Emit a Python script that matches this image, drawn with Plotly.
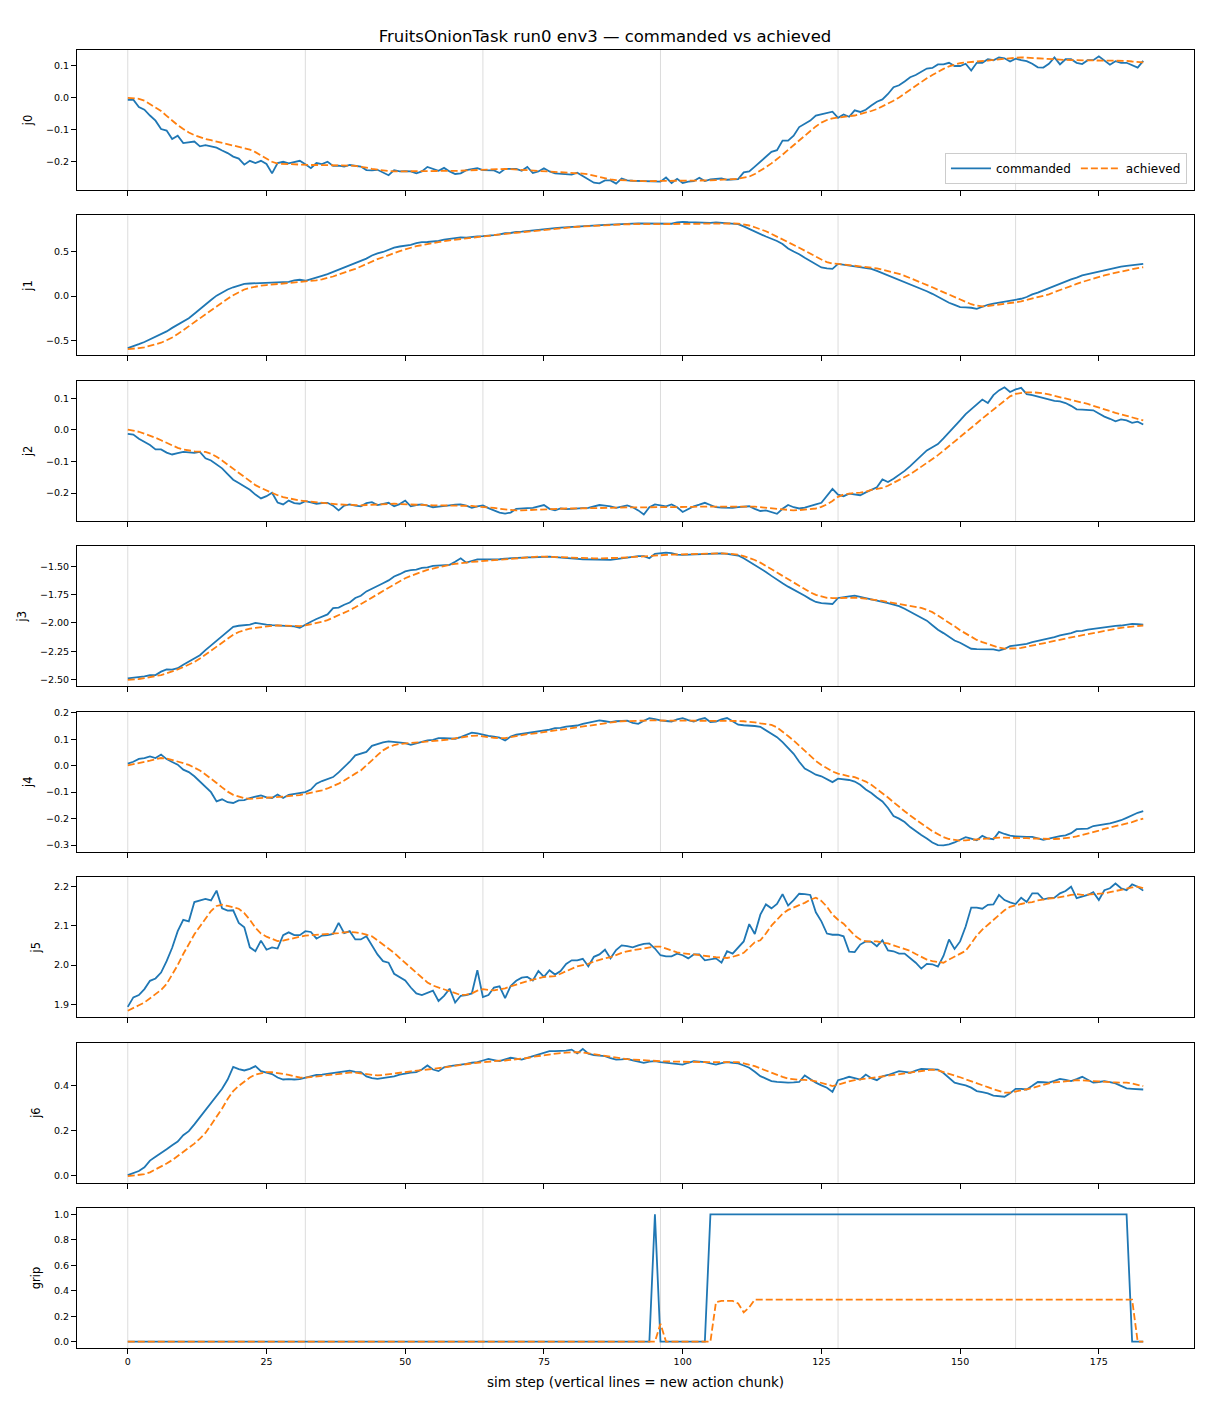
import plotly.graph_objects as go
from plotly.subplots import make_subplots

# sim steps 0..183
steps = list(range(184))
chunk_starts = [0, 32, 64, 96, 128, 160]

j0_cmd = [
    -0.007, -0.007, -0.030, -0.038, -0.056, -0.072, -0.098, -0.103, -0.129, -0.119,
    -0.142, -0.140, -0.137, -0.152, -0.148, -0.152, -0.156, -0.165, -0.173, -0.184,
    -0.190, -0.209, -0.197, -0.204, -0.197, -0.207, -0.236, -0.204, -0.200, -0.205,
    -0.201, -0.197, -0.208, -0.220, -0.204, -0.207, -0.200, -0.213, -0.212, -0.215,
    -0.210, -0.212, -0.215, -0.226, -0.227, -0.225, -0.233, -0.242, -0.226, -0.230,
    -0.229, -0.230, -0.236, -0.230, -0.216, -0.222, -0.228, -0.219, -0.230, -0.238,
    -0.236, -0.226, -0.224, -0.220, -0.226, -0.226, -0.227, -0.235, -0.222, -0.222,
    -0.222, -0.228, -0.216, -0.235, -0.230, -0.220, -0.230, -0.236, -0.237, -0.239,
    -0.240, -0.234, -0.244, -0.254, -0.265, -0.267, -0.258, -0.258, -0.268, -0.252,
    -0.258, -0.259, -0.260, -0.261, -0.262, -0.263, -0.262, -0.249, -0.266, -0.253,
    -0.266, -0.262, -0.260, -0.250, -0.260, -0.255, -0.254, -0.252, -0.256, -0.256,
    -0.254, -0.233, -0.230, -0.215, -0.200, -0.185, -0.169, -0.164, -0.134, -0.134,
    -0.119, -0.092, -0.083, -0.072, -0.056, -0.052, -0.048, -0.044, -0.063, -0.053,
    -0.060, -0.040, -0.045, -0.038, -0.025, -0.013, -0.006, 0.011, 0.032, 0.038,
    0.050, 0.063, 0.070, 0.079, 0.090, 0.092, 0.103, 0.103, 0.108, 0.098,
    0.098, 0.105, 0.084, 0.108, 0.108, 0.119, 0.116, 0.125, 0.122, 0.112,
    0.121, 0.116, 0.113, 0.105, 0.094, 0.093, 0.105, 0.125, 0.103, 0.119,
    0.119, 0.108, 0.104, 0.116, 0.116, 0.128, 0.116, 0.102, 0.113, 0.108,
    0.108, 0.100, 0.093, 0.114,
]
j0_ach = [
    -0.001, -0.002, -0.004, -0.010, -0.020, -0.030, -0.042, -0.057, -0.072, -0.086,
    -0.098, -0.109, -0.117, -0.124, -0.129, -0.133, -0.137, -0.141, -0.144, -0.148,
    -0.152, -0.156, -0.162, -0.170, -0.180, -0.190, -0.200, -0.206, -0.207, -0.207,
    -0.208, -0.208, -0.209, -0.210, -0.210, -0.210, -0.210, -0.210, -0.211, -0.211,
    -0.212, -0.213, -0.215, -0.218, -0.222, -0.225, -0.227, -0.229, -0.230, -0.230,
    -0.230, -0.230, -0.230, -0.229, -0.228, -0.228, -0.228, -0.229, -0.230, -0.229,
    -0.228, -0.227, -0.226, -0.225, -0.224, -0.223, -0.222, -0.222, -0.222, -0.223,
    -0.224, -0.225, -0.226, -0.227, -0.228, -0.228, -0.229, -0.230, -0.231, -0.233,
    -0.234, -0.236, -0.237, -0.239, -0.243, -0.248, -0.252, -0.255, -0.257, -0.258,
    -0.259, -0.260, -0.260, -0.260, -0.260, -0.260, -0.260, -0.260, -0.260, -0.260,
    -0.260, -0.260, -0.260, -0.260, -0.259, -0.258, -0.257, -0.256, -0.255, -0.254,
    -0.253, -0.249, -0.246, -0.238, -0.228, -0.217, -0.205, -0.192, -0.178, -0.163,
    -0.148, -0.133, -0.119, -0.104, -0.090, -0.078, -0.070, -0.065, -0.062, -0.060,
    -0.058, -0.056, -0.052, -0.048, -0.042, -0.036, -0.028, -0.020, -0.010, 0.000,
    0.012, 0.025, 0.037, 0.048, 0.060, 0.070, 0.080, 0.089, 0.097, 0.103,
    0.107, 0.109, 0.110, 0.111, 0.113, 0.115, 0.117, 0.119, 0.121, 0.123,
    0.124, 0.125, 0.124, 0.123, 0.121, 0.119, 0.118, 0.117, 0.117, 0.117,
    0.116, 0.116, 0.116, 0.116, 0.116, 0.116, 0.116, 0.116, 0.115, 0.115,
    0.114, 0.112, 0.110, 0.109,
]

j1_cmd = [
    -0.590, -0.570, -0.545, -0.520, -0.490, -0.460, -0.430, -0.400, -0.360, -0.325,
    -0.290, -0.250, -0.200, -0.145, -0.095, -0.045, 0.005, 0.040, 0.075, 0.100,
    0.120, 0.138, 0.143, 0.145, 0.147, 0.148, 0.150, 0.152, 0.158, 0.162,
    0.178, 0.185, 0.174, 0.190, 0.210, 0.230, 0.250, 0.275, 0.300, 0.325,
    0.350, 0.375, 0.400, 0.425, 0.460, 0.485, 0.500, 0.525, 0.550, 0.562,
    0.568, 0.580, 0.600, 0.612, 0.613, 0.617, 0.625, 0.640, 0.648, 0.655,
    0.665, 0.662, 0.672, 0.677, 0.680, 0.690, 0.692, 0.700, 0.712, 0.715,
    0.727, 0.730, 0.738, 0.745, 0.750, 0.758, 0.762, 0.770, 0.776, 0.780,
    0.790, 0.792, 0.797, 0.800, 0.802, 0.803, 0.806, 0.810, 0.815, 0.818,
    0.823, 0.822, 0.824, 0.823, 0.822, 0.823, 0.824, 0.822, 0.820, 0.835,
    0.842, 0.838, 0.835, 0.830, 0.827, 0.830, 0.835, 0.832, 0.828, 0.822,
    0.816, 0.790, 0.760, 0.730, 0.700, 0.675, 0.650, 0.625, 0.590, 0.540,
    0.505, 0.475, 0.435, 0.395, 0.360, 0.325, 0.315, 0.308, 0.365, 0.355,
    0.345, 0.335, 0.325, 0.315, 0.308, 0.285, 0.260, 0.235, 0.210, 0.188,
    0.160, 0.135, 0.110, 0.085, 0.055, 0.026, -0.010, -0.045, -0.075, -0.100,
    -0.124, -0.128, -0.132, -0.145, -0.120, -0.098, -0.085, -0.075, -0.062, -0.050,
    -0.040, -0.030, -0.010, 0.020, 0.040, 0.065, 0.095, 0.120, 0.145, 0.170,
    0.190, 0.210, 0.235, 0.250, 0.265, 0.278, 0.290, 0.305, 0.320, 0.335,
    0.342, 0.350, 0.358, 0.365,
]
j1_ach = [
    -0.600, -0.597, -0.590, -0.580, -0.565, -0.548, -0.528, -0.500, -0.470, -0.430,
    -0.385, -0.345, -0.300, -0.255, -0.205, -0.155, -0.115, -0.075, -0.030, 0.010,
    0.045, 0.075, 0.095, 0.108, 0.118, 0.125, 0.130, 0.135, 0.140, 0.146,
    0.152, 0.157, 0.162, 0.168, 0.178, 0.190, 0.205, 0.222, 0.245, 0.265,
    0.285, 0.308, 0.335, 0.365, 0.390, 0.420, 0.440, 0.465, 0.490, 0.510,
    0.530, 0.550, 0.565, 0.577, 0.590, 0.602, 0.612, 0.622, 0.632, 0.640,
    0.648, 0.655, 0.663, 0.670, 0.677, 0.684, 0.690, 0.697, 0.705, 0.712,
    0.718, 0.725, 0.732, 0.738, 0.745, 0.752, 0.758, 0.765, 0.770, 0.776,
    0.780, 0.786, 0.790, 0.795, 0.798, 0.801, 0.804, 0.807, 0.810, 0.812,
    0.814, 0.816, 0.816, 0.817, 0.817, 0.816, 0.816, 0.817, 0.818, 0.820,
    0.822, 0.823, 0.824, 0.824, 0.825, 0.825, 0.825, 0.824, 0.824, 0.823,
    0.822, 0.815, 0.800, 0.780, 0.760, 0.735, 0.705, 0.675, 0.647, 0.615,
    0.580, 0.548, 0.515, 0.480, 0.450, 0.415, 0.385, 0.370, 0.365, 0.358,
    0.352, 0.346, 0.340, 0.332, 0.323, 0.315, 0.300, 0.285, 0.270, 0.252,
    0.230, 0.205, 0.182, 0.158, 0.130, 0.100, 0.072, 0.045, 0.015, -0.015,
    -0.045, -0.070, -0.092, -0.108, -0.117, -0.112, -0.105, -0.098, -0.090, -0.080,
    -0.070, -0.060, -0.045, -0.030, -0.015, 0.000, 0.020, 0.045, 0.070, 0.092,
    0.115, 0.138, 0.160, 0.180, 0.200, 0.218, 0.235, 0.250, 0.265, 0.280,
    0.295, 0.307, 0.318, 0.327,
]

j2_cmd = [
    -0.013, -0.015, -0.028, -0.038, -0.048, -0.062, -0.062, -0.072, -0.078, -0.074,
    -0.070, -0.071, -0.073, -0.070, -0.090, -0.097, -0.110, -0.122, -0.140, -0.158,
    -0.168, -0.178, -0.190, -0.205, -0.217, -0.210, -0.199, -0.230, -0.236, -0.224,
    -0.232, -0.234, -0.226, -0.230, -0.234, -0.232, -0.231, -0.240, -0.255, -0.240,
    -0.236, -0.240, -0.242, -0.232, -0.229, -0.238, -0.235, -0.231, -0.242, -0.235,
    -0.224, -0.242, -0.238, -0.236, -0.240, -0.245, -0.243, -0.240, -0.239, -0.237,
    -0.236, -0.240, -0.247, -0.242, -0.239, -0.248, -0.255, -0.262, -0.265, -0.262,
    -0.250, -0.248, -0.248, -0.247, -0.242, -0.238, -0.250, -0.255, -0.249, -0.251,
    -0.250, -0.250, -0.248, -0.247, -0.243, -0.238, -0.240, -0.242, -0.247, -0.243,
    -0.239, -0.245, -0.255, -0.268, -0.245, -0.236, -0.240, -0.242, -0.236, -0.245,
    -0.260, -0.250, -0.242, -0.237, -0.231, -0.238, -0.245, -0.246, -0.247, -0.247,
    -0.245, -0.243, -0.242, -0.250, -0.257, -0.255, -0.260, -0.266, -0.250, -0.238,
    -0.245, -0.249, -0.246, -0.242, -0.236, -0.231, -0.210, -0.187, -0.205, -0.210,
    -0.202, -0.205, -0.207, -0.198, -0.190, -0.182, -0.157, -0.165, -0.155, -0.143,
    -0.130, -0.115, -0.098, -0.080, -0.065, -0.055, -0.045, -0.027, -0.009, 0.010,
    0.030, 0.050, 0.065, 0.078, 0.096, 0.085, 0.110, 0.125, 0.135, 0.120,
    0.128, 0.133, 0.113, 0.110, 0.105, 0.101, 0.097, 0.092, 0.090, 0.085,
    0.076, 0.065, 0.064, 0.063, 0.062, 0.052, 0.042, 0.035, 0.027, 0.033,
    0.030, 0.022, 0.026, 0.017,
]
j2_ach = [
    0.001, -0.002, -0.006, -0.012, -0.018, -0.025, -0.033, -0.041, -0.050, -0.057,
    -0.062, -0.066, -0.068, -0.069, -0.070, -0.076, -0.085, -0.097, -0.110, -0.125,
    -0.138, -0.150, -0.164, -0.175, -0.184, -0.192, -0.200, -0.207, -0.213, -0.217,
    -0.221, -0.224, -0.226, -0.228, -0.229, -0.231, -0.233, -0.234, -0.236, -0.237,
    -0.238, -0.239, -0.239, -0.238, -0.237, -0.236, -0.235, -0.234, -0.234, -0.235,
    -0.236, -0.237, -0.238, -0.239, -0.239, -0.239, -0.239, -0.239, -0.239, -0.239,
    -0.239, -0.240, -0.241, -0.243, -0.244, -0.245, -0.247, -0.250, -0.252, -0.254,
    -0.255, -0.255, -0.254, -0.253, -0.252, -0.251, -0.250, -0.250, -0.249, -0.249,
    -0.249, -0.249, -0.248, -0.248, -0.248, -0.247, -0.247, -0.247, -0.246, -0.246,
    -0.246, -0.245, -0.245, -0.245, -0.245, -0.245, -0.245, -0.245, -0.245, -0.245,
    -0.245, -0.244, -0.244, -0.243, -0.243, -0.242, -0.242, -0.242, -0.242, -0.242,
    -0.242, -0.242, -0.242, -0.243, -0.245, -0.247, -0.249, -0.251, -0.253, -0.255,
    -0.255, -0.254, -0.253, -0.252, -0.249, -0.244, -0.236, -0.225, -0.212, -0.205,
    -0.202, -0.200, -0.199, -0.196, -0.190, -0.186, -0.184, -0.177, -0.168, -0.158,
    -0.150, -0.140, -0.129, -0.117, -0.106, -0.093, -0.080, -0.066, -0.052, -0.038,
    -0.023, -0.008, 0.006, 0.021, 0.036, 0.050, 0.064, 0.078, 0.092, 0.106,
    0.114, 0.117, 0.119, 0.119, 0.118, 0.116, 0.112, 0.108, 0.104, 0.099,
    0.095, 0.091, 0.087, 0.082, 0.076, 0.070, 0.065, 0.060, 0.054, 0.049,
    0.044, 0.039, 0.034, 0.030,
]

j3_cmd = [
    -2.490, -2.485, -2.477, -2.472, -2.462, -2.460, -2.430, -2.410, -2.412, -2.400,
    -2.370, -2.340, -2.310, -2.285, -2.240, -2.200, -2.160, -2.120, -2.080, -2.035,
    -2.025, -2.023, -2.015, -2.000, -2.010, -2.015, -2.020, -2.023, -2.022, -2.023,
    -2.030, -2.044, -2.015, -1.990, -1.965, -1.945, -1.925, -1.870, -1.865, -1.840,
    -1.820, -1.780, -1.760, -1.722, -1.700, -1.678, -1.650, -1.625, -1.590, -1.570,
    -1.545, -1.535, -1.530, -1.515, -1.510, -1.497, -1.495, -1.490, -1.488, -1.460,
    -1.430, -1.468, -1.455, -1.440, -1.440, -1.440, -1.438, -1.438, -1.432, -1.428,
    -1.424, -1.423, -1.422, -1.421, -1.418, -1.416, -1.415, -1.420, -1.425, -1.430,
    -1.432, -1.435, -1.438, -1.439, -1.440, -1.441, -1.443, -1.444, -1.438, -1.430,
    -1.424, -1.418, -1.410, -1.410, -1.430, -1.390, -1.385, -1.380, -1.384, -1.398,
    -1.400, -1.398, -1.396, -1.395, -1.390, -1.388, -1.386, -1.387, -1.390, -1.398,
    -1.405, -1.430, -1.459, -1.490, -1.520, -1.550, -1.585, -1.620, -1.650, -1.680,
    -1.705, -1.735, -1.760, -1.790, -1.815, -1.825, -1.830, -1.833, -1.780, -1.770,
    -1.765, -1.760, -1.770, -1.780, -1.790, -1.800, -1.815, -1.825, -1.838, -1.852,
    -1.875, -1.900, -1.930, -1.955, -1.980, -2.020, -2.060, -2.090, -2.120, -2.155,
    -2.175, -2.200, -2.228, -2.232, -2.234, -2.232, -2.234, -2.245, -2.230, -2.205,
    -2.200, -2.192, -2.185, -2.170, -2.160, -2.145, -2.135, -2.125, -2.110, -2.100,
    -2.090, -2.073, -2.070, -2.060, -2.053, -2.045, -2.035, -2.030, -2.027, -2.023,
    -2.018, -2.009, -2.012, -2.015,
]
j3_ach = [
    -2.503, -2.500, -2.495, -2.487, -2.478, -2.470, -2.460, -2.445, -2.430, -2.410,
    -2.390, -2.370, -2.345, -2.315, -2.280, -2.245, -2.205, -2.170, -2.135, -2.105,
    -2.080, -2.062, -2.050, -2.044, -2.036, -2.030, -2.026, -2.023, -2.024, -2.027,
    -2.029, -2.028, -2.022, -2.012, -2.002, -1.990, -1.975, -1.955, -1.935, -1.912,
    -1.888, -1.862, -1.835, -1.808, -1.778, -1.748, -1.718, -1.690, -1.662, -1.632,
    -1.606, -1.585, -1.565, -1.548, -1.532, -1.520, -1.508, -1.495, -1.487, -1.479,
    -1.472, -1.467, -1.462, -1.458, -1.454, -1.450, -1.446, -1.442, -1.438, -1.434,
    -1.430, -1.425, -1.420, -1.417, -1.415, -1.415, -1.417, -1.420, -1.423, -1.426,
    -1.428, -1.430, -1.430, -1.430, -1.430, -1.430, -1.430, -1.430, -1.428, -1.425,
    -1.422, -1.418, -1.414, -1.411, -1.409, -1.406, -1.403, -1.400, -1.398, -1.396,
    -1.395, -1.393, -1.391, -1.390, -1.389, -1.388, -1.387, -1.386, -1.388, -1.392,
    -1.398, -1.410, -1.425, -1.445, -1.468, -1.495, -1.525, -1.555, -1.585, -1.615,
    -1.645, -1.675, -1.705, -1.730, -1.752, -1.768, -1.778, -1.781, -1.779, -1.776,
    -1.775, -1.778, -1.782, -1.786, -1.790, -1.798, -1.806, -1.814, -1.822, -1.830,
    -1.838, -1.848, -1.858, -1.868, -1.885, -1.905, -1.935, -1.965, -1.998, -2.030,
    -2.065, -2.095, -2.125, -2.150, -2.170, -2.188, -2.205, -2.218, -2.226, -2.228,
    -2.225, -2.220, -2.208, -2.200, -2.190, -2.180, -2.168, -2.158, -2.148, -2.138,
    -2.128, -2.118, -2.108, -2.098, -2.088, -2.078, -2.068, -2.058, -2.050, -2.043,
    -2.037, -2.031, -2.027, -2.023,
]

j4_cmd = [
    0.008, 0.015, 0.026, 0.029, 0.035, 0.029, 0.042, 0.025, 0.014, 0.004,
    -0.015, -0.024, -0.040, -0.060, -0.080, -0.100, -0.135, -0.127, -0.138, -0.141,
    -0.131, -0.130, -0.122, -0.118, -0.112, -0.120, -0.122, -0.109, -0.122, -0.110,
    -0.106, -0.103, -0.100, -0.090, -0.068, -0.058, -0.050, -0.043, -0.025, -0.005,
    0.015, 0.039, 0.045, 0.052, 0.075, 0.082, 0.088, 0.092, 0.090, 0.088,
    0.085, 0.079, 0.085, 0.092, 0.096, 0.098, 0.104, 0.104, 0.102, 0.102,
    0.108, 0.115, 0.125, 0.122, 0.117, 0.113, 0.110, 0.106, 0.095, 0.110,
    0.117, 0.120, 0.122, 0.125, 0.128, 0.133, 0.136, 0.142, 0.143, 0.148,
    0.150, 0.152, 0.158, 0.163, 0.167, 0.171, 0.168, 0.165, 0.168, 0.170,
    0.170, 0.162, 0.158, 0.170, 0.180, 0.176, 0.171, 0.169, 0.167, 0.175,
    0.180, 0.172, 0.167, 0.175, 0.180, 0.165, 0.167, 0.175, 0.180, 0.168,
    0.155, 0.153, 0.152, 0.150, 0.147, 0.135, 0.121, 0.108, 0.089, 0.065,
    0.045, 0.015, -0.011, -0.022, -0.034, -0.040, -0.050, -0.062, -0.049, -0.052,
    -0.054, -0.060, -0.072, -0.090, -0.103, -0.120, -0.135, -0.160, -0.190, -0.200,
    -0.213, -0.232, -0.248, -0.262, -0.275, -0.290, -0.300, -0.301, -0.297, -0.290,
    -0.280, -0.270, -0.276, -0.282, -0.265, -0.275, -0.278, -0.250, -0.258, -0.264,
    -0.267, -0.269, -0.269, -0.269, -0.274, -0.280, -0.276, -0.270, -0.266, -0.263,
    -0.255, -0.240, -0.239, -0.238, -0.228, -0.225, -0.223, -0.218, -0.212, -0.206,
    -0.197, -0.187, -0.178, -0.172,
]
j4_ach = [
    0.001, 0.005, 0.010, 0.014, 0.019, 0.024, 0.029, 0.027, 0.022, 0.016,
    0.010, 0.003, -0.006, -0.018, -0.033, -0.048, -0.065, -0.082, -0.098, -0.110,
    -0.118, -0.123, -0.125, -0.124, -0.122, -0.120, -0.119, -0.118, -0.117, -0.115,
    -0.114, -0.111, -0.107, -0.103, -0.099, -0.093, -0.086, -0.078, -0.068, -0.056,
    -0.042, -0.030, -0.018, 0.000, 0.020, 0.040, 0.058, 0.070, 0.078, 0.082,
    0.084, 0.086, 0.087, 0.089, 0.091, 0.093, 0.095, 0.096, 0.099, 0.103,
    0.107, 0.110, 0.113, 0.114, 0.112, 0.108, 0.105, 0.104, 0.104, 0.108,
    0.112, 0.116, 0.119, 0.121, 0.124, 0.127, 0.131, 0.134, 0.137, 0.140,
    0.143, 0.146, 0.149, 0.153, 0.156, 0.159, 0.162, 0.164, 0.166, 0.168,
    0.169, 0.170, 0.171, 0.171, 0.171, 0.171, 0.171, 0.171, 0.171, 0.171,
    0.171, 0.171, 0.171, 0.171, 0.171, 0.171, 0.171, 0.171, 0.171, 0.170,
    0.169, 0.168, 0.167, 0.164, 0.160, 0.157, 0.154, 0.145, 0.130, 0.112,
    0.095, 0.075, 0.055, 0.035, 0.018, 0.003, -0.010, -0.022, -0.030, -0.036,
    -0.040, -0.043, -0.050, -0.060, -0.072, -0.087, -0.103, -0.120, -0.138, -0.156,
    -0.172, -0.188, -0.204, -0.219, -0.233, -0.247, -0.260, -0.270, -0.277, -0.281,
    -0.283, -0.282, -0.280, -0.278, -0.276, -0.274, -0.273, -0.272, -0.272, -0.272,
    -0.272, -0.273, -0.274, -0.275, -0.276, -0.277, -0.277, -0.277, -0.276, -0.274,
    -0.271, -0.267, -0.262, -0.257, -0.251, -0.245, -0.239, -0.234, -0.229, -0.224,
    -0.219, -0.213, -0.206, -0.200,
]

j5_cmd = [
    1.894, 1.918, 1.924, 1.939, 1.960, 1.966, 1.981, 2.010, 2.044, 2.086,
    2.115, 2.111, 2.160, 2.165, 2.168, 2.164, 2.189, 2.144, 2.138, 2.139,
    2.107, 2.096, 2.045, 2.035, 2.062, 2.039, 2.045, 2.042, 2.076, 2.083,
    2.076, 2.076, 2.086, 2.084, 2.067, 2.075, 2.076, 2.079, 2.107, 2.081,
    2.086, 2.065, 2.065, 2.073, 2.050, 2.027, 2.010, 2.006, 1.978, 1.970,
    1.961, 1.943, 1.928, 1.924, 1.930, 1.935, 1.909, 1.922, 1.940, 1.905,
    1.922, 1.924, 1.928, 1.987, 1.919, 1.924, 1.943, 1.946, 1.916, 1.947,
    1.960, 1.968, 1.970, 1.961, 1.985, 1.970, 1.987, 1.976, 1.985, 2.003,
    2.012, 2.012, 2.016, 1.997, 2.021, 2.027, 2.039, 2.017, 2.038, 2.050,
    2.048, 2.045, 2.050, 2.054, 2.055, 2.042, 2.025, 2.022, 2.022, 2.029,
    2.025, 2.017, 2.027, 2.027, 2.012, 2.014, 2.017, 2.006, 2.035, 2.029,
    2.044, 2.060, 2.104, 2.079, 2.128, 2.154, 2.144, 2.155, 2.180, 2.151,
    2.165, 2.181, 2.180, 2.178, 2.134, 2.111, 2.080, 2.077, 2.077, 2.073,
    2.034, 2.033, 2.052, 2.060, 2.059, 2.048, 2.063, 2.037, 2.035, 2.029,
    2.029, 2.018, 2.006, 1.991, 2.003, 2.002, 1.996, 2.023, 2.065, 2.041,
    2.060, 2.098, 2.146, 2.146, 2.143, 2.153, 2.154, 2.178, 2.165, 2.159,
    2.155, 2.171, 2.160, 2.182, 2.182, 2.167, 2.170, 2.171, 2.182, 2.188,
    2.199, 2.170, 2.174, 2.178, 2.185, 2.165, 2.190, 2.195, 2.207, 2.195,
    2.190, 2.205, 2.199, 2.189,
]
j5_ach = [
    1.884, 1.890, 1.898, 1.905, 1.915, 1.926, 1.937, 1.952, 1.975, 2.000,
    2.028, 2.055, 2.078, 2.098, 2.118, 2.137, 2.150, 2.153, 2.150, 2.146,
    2.143, 2.132, 2.115, 2.095, 2.080, 2.072, 2.066, 2.061, 2.062, 2.065,
    2.069, 2.072, 2.075, 2.076, 2.077, 2.078, 2.078, 2.079, 2.081, 2.083,
    2.084, 2.083, 2.081, 2.077, 2.073, 2.063, 2.053, 2.042, 2.031, 2.018,
    2.006, 1.994, 1.981, 1.968, 1.956, 1.948, 1.943, 1.939, 1.935, 1.929,
    1.924, 1.925, 1.928, 1.935, 1.939, 1.937, 1.936, 1.938, 1.941, 1.946,
    1.951, 1.955, 1.959, 1.963, 1.966, 1.970, 1.971, 1.972, 1.978, 1.985,
    1.991, 1.997, 2.000, 2.003, 2.009, 2.014, 2.017, 2.020, 2.026, 2.031,
    2.035, 2.038, 2.040, 2.042, 2.045, 2.047, 2.047, 2.042, 2.036, 2.032,
    2.030, 2.029, 2.027, 2.025, 2.023, 2.021, 2.020, 2.019, 2.018, 2.021,
    2.025, 2.031, 2.045, 2.058, 2.063, 2.080, 2.100, 2.115, 2.130, 2.140,
    2.147, 2.152, 2.158, 2.166, 2.171, 2.163, 2.148, 2.128, 2.115, 2.105,
    2.090, 2.075, 2.065, 2.060, 2.060, 2.060, 2.057, 2.055, 2.050, 2.045,
    2.040, 2.036, 2.028, 2.020, 2.014, 2.010, 2.008, 2.006, 2.014, 2.022,
    2.028, 2.036, 2.055, 2.075, 2.090, 2.102, 2.115, 2.128, 2.139, 2.148,
    2.152, 2.155, 2.158, 2.160, 2.164, 2.167, 2.169, 2.170, 2.172, 2.175,
    2.178, 2.180, 2.178, 2.179, 2.180, 2.181, 2.182, 2.185, 2.188, 2.191,
    2.195, 2.197, 2.199, 2.195,
]

j6_cmd = [
    0.004, 0.012, 0.022, 0.038, 0.068, 0.085, 0.100, 0.118, 0.136, 0.152,
    0.180, 0.198, 0.228, 0.260, 0.292, 0.325, 0.355, 0.385, 0.426, 0.482,
    0.472, 0.466, 0.473, 0.485, 0.463, 0.458, 0.450, 0.435, 0.426, 0.428,
    0.426, 0.428, 0.434, 0.440, 0.446, 0.448, 0.452, 0.456, 0.460, 0.463,
    0.465, 0.460, 0.459, 0.440, 0.432, 0.429, 0.432, 0.436, 0.440, 0.448,
    0.453, 0.456, 0.459, 0.470, 0.488, 0.470, 0.463, 0.480, 0.485, 0.488,
    0.490, 0.495, 0.500, 0.503, 0.510, 0.517, 0.512, 0.507, 0.515, 0.522,
    0.518, 0.514, 0.522, 0.530, 0.536, 0.545, 0.551, 0.551, 0.551, 0.554,
    0.558, 0.541, 0.561, 0.540, 0.534, 0.532, 0.529, 0.520, 0.514, 0.515,
    0.517, 0.510, 0.505, 0.500, 0.505, 0.507, 0.503, 0.500, 0.498, 0.495,
    0.492, 0.500, 0.507, 0.505, 0.503, 0.497, 0.492, 0.498, 0.503, 0.500,
    0.497, 0.488, 0.478, 0.460, 0.441, 0.430, 0.419, 0.416, 0.413, 0.412,
    0.413, 0.415, 0.444, 0.428, 0.412, 0.400, 0.390, 0.371, 0.423, 0.430,
    0.438, 0.432, 0.426, 0.448, 0.432, 0.423, 0.440, 0.446, 0.455, 0.463,
    0.460, 0.456, 0.465, 0.473, 0.472, 0.471, 0.470, 0.455, 0.435, 0.412,
    0.406, 0.400, 0.390, 0.375, 0.370, 0.365, 0.355, 0.352, 0.350, 0.365,
    0.385, 0.385, 0.382, 0.398, 0.415, 0.414, 0.412, 0.420, 0.429, 0.424,
    0.419, 0.428, 0.438, 0.425, 0.412, 0.415, 0.419, 0.414, 0.409, 0.398,
    0.387, 0.385, 0.383, 0.382,
]
j6_ach = [
    -0.001, 0.001, 0.004, 0.008, 0.016, 0.028, 0.042, 0.055, 0.070, 0.088,
    0.107, 0.125, 0.143, 0.165, 0.190, 0.225, 0.260, 0.298, 0.340, 0.375,
    0.398, 0.418, 0.435, 0.448, 0.455, 0.459, 0.458, 0.455, 0.452, 0.447,
    0.440, 0.435, 0.434, 0.437, 0.440, 0.443, 0.445, 0.448, 0.451, 0.454,
    0.456, 0.456, 0.453, 0.449, 0.445, 0.444, 0.446, 0.450, 0.454, 0.457,
    0.459, 0.462, 0.464, 0.467, 0.470, 0.473, 0.476, 0.480, 0.484, 0.488,
    0.491, 0.494, 0.497, 0.500, 0.503, 0.506, 0.508, 0.509, 0.510, 0.512,
    0.514, 0.517, 0.521, 0.526, 0.530, 0.534, 0.538, 0.541, 0.543, 0.545,
    0.547, 0.547, 0.545, 0.541, 0.537, 0.533, 0.529, 0.526, 0.522, 0.519,
    0.516, 0.514, 0.512, 0.510, 0.509, 0.508, 0.507, 0.506, 0.505, 0.504,
    0.503, 0.503, 0.503, 0.503, 0.503, 0.503, 0.503, 0.503, 0.503, 0.503,
    0.503, 0.497, 0.492, 0.485, 0.475, 0.465, 0.456, 0.447, 0.438, 0.430,
    0.426, 0.425, 0.424, 0.423, 0.418, 0.410, 0.403, 0.397, 0.403, 0.412,
    0.418, 0.423, 0.426, 0.429, 0.432, 0.435, 0.438, 0.442, 0.446, 0.450,
    0.453, 0.456, 0.460, 0.464, 0.467, 0.470, 0.466, 0.459, 0.453, 0.445,
    0.436, 0.427, 0.419, 0.410, 0.401, 0.392, 0.383, 0.375, 0.368, 0.368,
    0.372, 0.377, 0.383, 0.389, 0.396, 0.403, 0.409, 0.413, 0.416, 0.419,
    0.421, 0.423, 0.422, 0.420, 0.418, 0.416, 0.415, 0.414, 0.413, 0.412,
    0.412, 0.408, 0.402, 0.397,
]

# gripper: runs of constant values
grip_cmd = [0.0] * 95 + [1.0] + [0.0] * 9 + [1.0] * 76 + [0.0] * 3
grip_ach = ([0.0] * 96 + [0.14] + [0.0] * 9
            + [0.31, 0.32, 0.32, 0.32, 0.30, 0.23, 0.27]
            + [0.33] * 69 + [0.0] * 2)

panels = [
    ("j0", j0_cmd, j0_ach, 0.1, ".1f"),
    ("j1", j1_cmd, j1_ach, 0.5, ".1f"),
    ("j2", j2_cmd, j2_ach, 0.1, ".1f"),
    ("j3", j3_cmd, j3_ach, 0.25, ".2f"),
    ("j4", j4_cmd, j4_ach, 0.1, ".1f"),
    ("j5", j5_cmd, j5_ach, 0.1, ".1f"),
    ("j6", j6_cmd, j6_ach, 0.2, ".1f"),
    ("grip", grip_cmd, grip_ach, 0.2, ".1f"),
]

BLUE = "#1f77b4"
ORANGE = "#ff7f0e"
FONT = "DejaVu Sans"

# the page body adds an 8px offset, so the figure is 8px smaller than the window
W, H = 1202, 1400

fig = make_subplots(rows=8, cols=1, shared_xaxes=True, vertical_spacing=0.0196)

for i, (name, cmd, ach, dtick, fmt) in enumerate(panels, start=1):
    fig.add_trace(go.Scatter(
        x=steps[:len(cmd)], y=cmd, mode="lines", name="commanded",
        line=dict(color=BLUE, width=1.8), showlegend=(i == 1)), row=i, col=1)
    fig.add_trace(go.Scatter(
        x=steps[:len(ach)], y=ach, mode="lines", name="achieved",
        line=dict(color=ORANGE, width=1.8, dash="7px,3px"), showlegend=(i == 1)), row=i, col=1)

    # matplotlib-like 5% margins
    lo = min(min(cmd), min(ach))
    hi = max(max(cmd), max(ach))
    pad = 0.05 * (hi - lo)
    fig.update_yaxes(range=[lo - pad, hi + pad], dtick=dtick, tick0=0, tickformat=fmt,
                     title=dict(text=name, standoff=10, font=dict(size=11.5)),
                     row=i, col=1)

    for c in chunk_starts:
        fig.add_vline(x=c, line=dict(color="#dcdcdc", width=1), layer="below", row=i, col=1)

fig.update_xaxes(range=[-9.15, 192.15], dtick=25, tick0=0,
                 showline=True, linecolor="black", linewidth=1, mirror=True,
                 ticks="outside", ticklen=5, tickwidth=1, tickcolor="black",
                 showgrid=False, zeroline=False, tickfont=dict(size=9.5))
fig.update_yaxes(showline=True, linecolor="black", linewidth=1, mirror=True,
                 ticks="outside", ticklen=5, tickwidth=1, tickcolor="black",
                 showgrid=False, zeroline=False, tickfont=dict(size=9.5))
fig.update_xaxes(title=dict(text="sim step (vertical lines = new action chunk)",
                            standoff=11, font=dict(size=13.5)), row=8, col=1)

fig.update_layout(
    width=W, height=H,
    margin=dict(l=69, r=16, t=42, b=60),
    paper_bgcolor="white", plot_bgcolor="white",
    font=dict(family=FONT, color="black"),
    title=dict(text="FruitsOnionTask run0 env3 — commanded vs achieved",
               x=(605 - 8) / W, xref="container", y=1 - 28 / H, yref="container",
               xanchor="center", yanchor="middle", font=dict(size=16.5)),
    legend=dict(orientation="h", x=0.9937, xanchor="right", y=0.8968, yanchor="bottom",
                bgcolor="rgba(255,255,255,0.8)", bordercolor="#cccccc", borderwidth=1,
                font=dict(size=12), itemwidth=40),
)

fig.write_html("out.html")
